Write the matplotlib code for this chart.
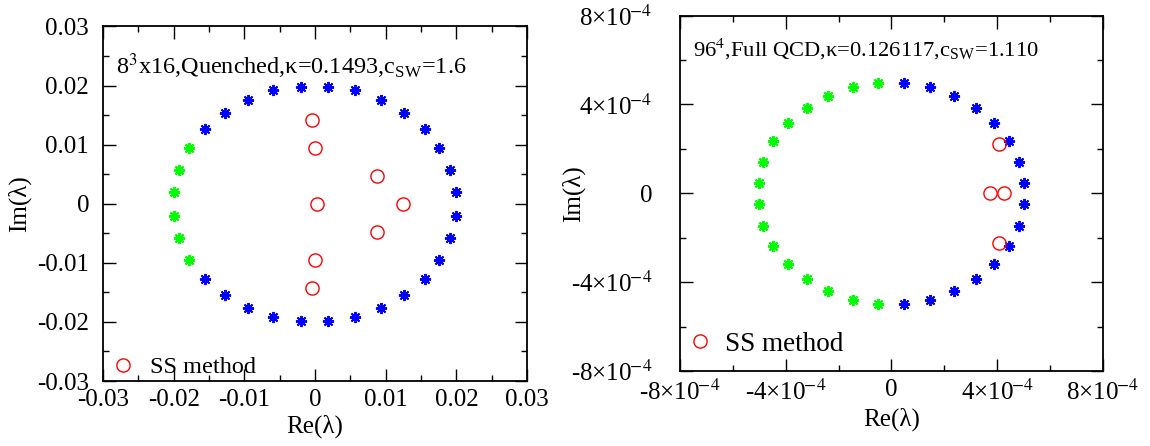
import matplotlib
matplotlib.use("Agg")
import matplotlib.pyplot as plt
from matplotlib.ticker import MultipleLocator, FixedLocator
import numpy as np

plt.rcParams['font.family'] = ['Liberation Serif', 'DejaVu Serif']
plt.rcParams['mathtext.fontset'] = 'stix'

# ---- left panel: quenched 8^3x16 ----
q_green_re = [-0.0178, -0.0193, -0.0200, -0.0200, -0.0193, -0.0178]
q_green_im = [0.0094, 0.00575, 0.00192, -0.00200, -0.00580, -0.00946]
q_blue_re = [-0.0020, 0.0018, -0.0059, 0.0057, -0.0095, 0.0094, -0.0128, 0.0126,
             -0.0156, 0.0155, 0.0176, 0.0191, 0.0199, 0.0199, 0.0191, 0.0176,
             -0.0156, 0.0155, -0.0128, 0.0126, -0.0095, 0.0094, -0.0059, 0.0057,
             -0.0020, 0.0018]
q_blue_im = [0.0198, 0.0198, 0.0192, 0.0192, 0.0176, 0.0176, 0.0154, 0.0154,
             0.0127, 0.0127, 0.0094, 0.00575, 0.00192, -0.00200, -0.00580, -0.00946,
             -0.0127, -0.0127, -0.0155, -0.0155, -0.0177, -0.0177, -0.0192, -0.0192,
             -0.0199, -0.0199]
q_ss_re = [-0.0004, -0.00005, 0.0003, 0.0087, 0.0124, 0.0087, -0.00005, -0.0004]
q_ss_im = [0.0141, 0.0095, 0.0, 0.0047, 0.0, -0.0047, -0.0095, -0.0142]

# ---- right panel: full QCD 96^4 ----
f_green_re = [-0.51e-4, -1.47e-4, -2.41e-4, -3.20e-4, -3.90e-4, -4.47e-4, -4.86e-4, -5.03e-4,
              -5.03e-4, -4.86e-4, -4.47e-4, -3.90e-4, -3.20e-4, -2.41e-4, -1.47e-4, -0.51e-4]
f_green_im = [4.96e-4, 4.78e-4, 4.39e-4, 3.85e-4, 3.15e-4, 2.34e-4, 1.42e-4, 0.48e-4,
              -0.49e-4, -1.47e-4, -2.37e-4, -3.18e-4, -3.87e-4, -4.40e-4, -4.79e-4, -4.97e-4]
f_blue_re = [0.48e-4, 1.46e-4, 2.35e-4, 3.19e-4, 3.89e-4, 4.43e-4, 4.81e-4, 5.00e-4,
             5.00e-4, 4.81e-4, 4.43e-4, 3.89e-4, 3.19e-4, 2.35e-4, 1.46e-4, 0.48e-4]
f_blue_im = f_green_im
f_ss_re = [4.05e-4, 3.73e-4, 4.24e-4, 4.05e-4]
f_ss_im = [2.23e-4, 0.0, 0.0, -2.25e-4]

left_ticks = [-0.03, -0.02, -0.01, 0, 0.01, 0.02, 0.03]
left_labels = ['-0.03', '-0.02', '-0.01', '0', '0.01', '0.02', '0.03']
right_ticks = [-8e-4, -4e-4, 0, 4e-4, 8e-4]
sup = r'$^{\!\!-\!4}$'
right_labels = ['-8×10' + sup, '-4×10' + sup, '0', '4×10' + sup, '8×10' + sup]

fig = plt.figure(figsize=(11.5, 4.46), dpi=100)
ax1 = fig.add_axes([0.0896, 0.1457, 0.3687, 0.7949])
ax2 = fig.add_axes([0.5913, 0.1682, 0.3678, 0.7970])

star = dict(marker=(8, 2, 0), linestyle='none', markersize=8, markeredgewidth=1.4)
ring = dict(marker='o', linestyle='none', markersize=9.5, markerfacecolor='none',
            markeredgecolor='#ff0000', markeredgewidth=1.0)

ax1.plot(q_blue_re, q_blue_im, color='#0000ff', **star)
ax1.plot(q_green_re, q_green_im, color='#00ff00', **star)
ax1.plot(q_ss_re, q_ss_im, label='SS method', **ring)

ax2.plot(f_blue_re, f_blue_im, color='#0000ff', **star)
ax2.plot(f_green_re, f_green_im, color='#00ff00', **star)
ax2.plot(f_ss_re, f_ss_im, label='SS method', **ring)

for ax, ticks, labels, minor, lim, ypad, ylx in [(ax1, left_ticks, left_labels, 0.005, 0.03, 10, -0.198),
                                                 (ax2, right_ticks, right_labels, 2e-4, 8e-4, 20, -0.253)]:
    ax.set_xlim(-lim, lim)
    ax.set_ylim(-lim, lim)
    ax.xaxis.set_major_locator(FixedLocator(ticks))
    ax.yaxis.set_major_locator(FixedLocator(ticks))
    ax.set_xticklabels(labels)
    ax.set_yticklabels(labels)
    ax.xaxis.set_minor_locator(MultipleLocator(minor))
    ax.yaxis.set_minor_locator(MultipleLocator(minor))
    ax.tick_params(which='both', direction='in', top=True, right=True, width=1.0)
    ax.tick_params(which='major', length=9, labelsize=18)
    ax.tick_params(which='minor', length=4.5)
    ax.tick_params(axis='x', which='major', pad=6)
    ax.tick_params(axis='y', which='major', pad=ypad)
    for s in ax.spines.values():
        s.set_linewidth(1.3)
    ax.set_xlabel('Re(λ)', fontsize=18, labelpad=2)
    ax.set_ylabel('Im(λ)', fontsize=18, va='center')
    ax.yaxis.set_label_coords(ylx, 0.5)

ax1.text(0.03, 0.865, r'8$^3$x16,Quenched,κ=0.1493,c$_{\mathregular{SW}}$=1.6',
         transform=ax1.transAxes, fontsize=17.5)
ax2.text(0.03, 0.885, r'96$^4$,Full QCD,κ=0.126117,c$_{\mathregular{SW}}$=1.110',
         transform=ax2.transAxes, fontsize=16.2)

ax1.legend(loc='lower left', frameon=False, fontsize=17.5, handlelength=1.0,
           handletextpad=0.6, borderaxespad=0.2, borderpad=0.2,
           bbox_to_anchor=(-0.005, -0.02))
ax2.legend(loc='lower left', frameon=False, fontsize=19.5, handlelength=1.0,
           handletextpad=0.4, borderaxespad=0.2, borderpad=0.2,
           bbox_to_anchor=(-0.01, 0.01))

fig.savefig('out.png', dpi=100)
